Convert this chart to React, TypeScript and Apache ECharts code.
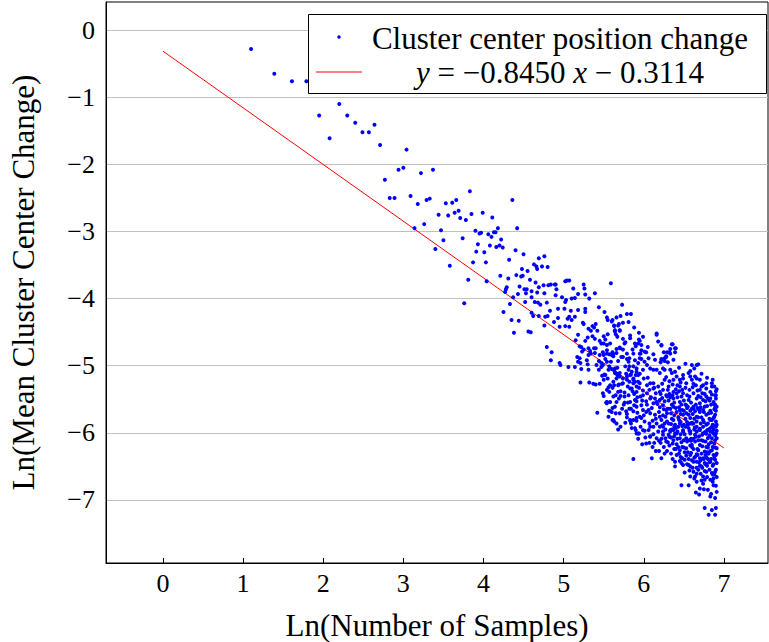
import React, { useEffect, useRef } from 'react';
import * as echarts from 'echarts';

// x = Ln(Number of Samples), y = Ln(Mean Cluster Center Change)
const sparsePoints: number[][] = [
  [1.10,-0.28],[1.39,-0.65],[1.61,-0.76],[1.79,-0.76],[1.95,-1.27],[2.08,-1.61],[2.20,-1.10],[2.30,-1.27],
  [2.40,-1.38],[2.49,-1.52],[2.57,-1.52],[2.64,-1.41],[2.71,-1.71],[2.77,-2.23],[2.83,-2.50],[2.89,-2.50],
  [2.94,-2.08],[3.00,-2.05],[3.04,-1.78],[3.09,-2.47],[3.14,-2.95],[3.18,-2.59],[3.22,-2.13],[3.26,-2.89],
  [3.29,-2.53],[3.33,-2.51],[3.37,-2.08],[3.40,-3.26]
];

const midPoints: number[][] = [
  [3.44,-2.75],[3.47,-2.98],[3.50,-3.13],[3.53,-2.58],[3.56,-2.76],[3.58,-3.51],[3.61,-2.57],[3.64,-2.72],
  [3.66,-2.53],[3.69,-2.69],[3.71,-2.80],[3.74,-3.10],[3.76,-4.07],[3.78,-2.83],[3.81,-3.72],[3.83,-2.40],
  [3.85,-2.74],[3.87,-3.46],[3.90,-2.99],[3.91,-3.30],[3.93,-3.19],[3.95,-3.03],[3.97,-3.02],[3.99,-2.72],
  [4.01,-3.31],[4.03,-3.46],[4.04,-3.74],[4.06,-3.04],[4.08,-3.21],[4.10,-3.08],[4.11,-2.79],[4.13,-3.01],
  [4.15,-3.01],[4.16,-3.23],[4.18,-2.95],[4.20,-3.21],[4.21,-3.66],[4.22,-3.12],[4.24,-3.24],[4.25,-4.20],
  [4.27,-3.90],[4.28,-3.86],[4.29,-3.83],[4.31,-3.70],[4.32,-3.42],[4.33,-4.08],[4.35,-4.32],[4.36,-2.53],
  [4.37,-3.98],[4.38,-4.51],[4.40,-3.28],[4.41,-3.65],[4.42,-2.95],[4.43,-3.93],[4.44,-4.33],[4.45,-3.82],
  [4.47,-3.67],[4.48,-3.56],[4.49,-3.66],[4.50,-3.34],[4.51,-3.86],[4.52,-4.05],[4.53,-3.92],[4.54,-3.86],
  [4.55,-3.59],[4.56,-4.49],[4.58,-3.72],[4.59,-4.50],[4.60,-3.89],[4.60,-3.98],[4.60,-4.21],[4.62,-4.26],
  [4.63,-3.49],[4.64,-4.05],[4.65,-3.76],[4.66,-3.52],[4.67,-3.56],[4.67,-3.91],[4.68,-4.06],[4.69,-3.40],
  [4.69,-3.83],[4.69,-4.26],[4.71,-4.09],[4.73,-3.52],[4.75,-3.80],[4.76,-3.37],[4.76,-3.92],[4.76,-4.40],
  [4.77,-4.27],[4.79,-4.06],[4.79,-4.72],[4.80,-3.53],[4.80,-4.26],[4.81,-3.80],[4.83,-4.18],[4.84,-3.79],
  [4.84,-4.92],[4.85,-4.80],[4.88,-4.35],[4.89,-3.79],[4.90,-3.79],[4.90,-3.95],[4.91,-3.86],[4.93,-4.15],
  [4.93,-4.29],[4.95,-4.42],[4.95,-4.96],[4.96,-4.99],[4.98,-3.98]
];

const band5Points: number[][] = [
  [5.01,-4.15],[5.02,-3.74],[5.02,-4.05],[5.02,-4.41],[5.03,-4.02],[5.04,-3.73],[5.05,-4.30],[5.06,-5.02],
  [5.07,-3.73],[5.07,-4.27],[5.07,-4.42],[5.09,-4.18],[5.10,-4.00],[5.10,-4.32],[5.12,-3.85],[5.14,-3.99],
  [5.14,-4.27],[5.14,-5.02],[5.15,-4.62],[5.17,-4.87],[5.18,-3.93],[5.18,-4.17],[5.18,-4.54],[5.18,-4.94],
  [5.20,-4.71],[5.20,-4.89],[5.21,-4.96],[5.21,-5.25],[5.22,-4.72],[5.22,-5.05],[5.23,-4.79],[5.24,-4.36],
  [5.25,-3.79],[5.25,-4.38],[5.25,-4.76],[5.26,-3.85],[5.27,-3.94],[5.27,-4.15],[5.27,-4.20],[5.27,-4.63],
  [5.29,-4.92],[5.30,-4.58],[5.30,-4.98],[5.31,-4.45],[5.31,-4.74],[5.31,-4.84],[5.31,-5.06],[5.32,-4.00],
  [5.32,-5.25],[5.33,-4.78],[5.34,-4.48],[5.34,-4.82],[5.36,-4.41],[5.36,-4.56],[5.37,-5.27],[5.38,-4.43],
  [5.38,-4.74],[5.39,-3.92],[5.39,-4.60],[5.39,-4.81],[5.40,-4.38],[5.40,-4.74],[5.40,-5.28],[5.41,-4.99],
  [5.42,-4.48],[5.42,-5.70],[5.44,-4.13],[5.44,-5.06],[5.45,-4.63],[5.45,-4.84],[5.45,-5.27],[5.47,-4.67],
  [5.47,-4.96],[5.47,-5.02],[5.49,-4.80],[5.49,-4.99],[5.49,-5.41],[5.50,-4.56],[5.50,-4.67],[5.50,-4.84],
  [5.50,-5.21],[5.50,-5.45],[5.51,-4.20],[5.51,-5.13],[5.52,-4.61],[5.52,-5.14],[5.53,-5.55],[5.54,-4.28],
  [5.54,-4.69],[5.54,-4.77],[5.54,-4.82],[5.54,-4.94],[5.54,-5.36],[5.54,-5.54],[5.54,-5.56],[5.55,-4.32],
  [5.55,-4.53],[5.55,-5.19],[5.56,-5.06],[5.56,-5.76],[5.57,-4.83],[5.57,-5.01],[5.57,-5.39],[5.57,-5.67],
  [5.58,-4.67],[5.58,-5.29],[5.58,-5.54],[5.59,-3.77],[5.59,-4.94],[5.60,-4.34],[5.60,-4.84],[5.60,-5.69],
  [5.61,-4.32],[5.61,-4.80],[5.61,-5.33],[5.61,-5.63],[5.61,-5.81],[5.62,-4.83],[5.62,-4.86],[5.62,-5.24],
  [5.62,-5.46],[5.62,-5.81],[5.63,-4.40],[5.63,-4.41],[5.63,-5.07],[5.63,-5.29],[5.63,-5.83],[5.64,-4.47],
  [5.64,-4.49],[5.64,-5.04],[5.64,-5.11],[5.64,-5.61],[5.65,-4.53],[5.65,-5.11],[5.65,-5.71],[5.66,-4.28],
  [5.66,-4.75],[5.66,-4.81],[5.66,-5.19],[5.66,-5.54],[5.66,-5.86],[5.67,-4.57],[5.67,-5.03],[5.67,-5.14],
  [5.68,-4.40],[5.68,-4.93],[5.68,-5.13],[5.68,-5.29],[5.68,-5.39],[5.68,-5.95],[5.69,-4.38],[5.69,-5.49],
  [5.70,-4.47],[5.70,-4.48],[5.70,-4.73],[5.70,-4.74],[5.70,-5.11],[5.70,-5.16],[5.70,-5.71]
];

const blobAPoints: number[][] = [
  [5.71,-4.26],[5.71,-5.38],[5.71,-5.45],[5.71,-5.91],[5.72,-4.87],[5.73,-4.09],[5.73,-5.27],[5.74,-4.36],
  [5.74,-4.60],[5.74,-4.76],[5.74,-4.87],[5.74,-5.19],[5.74,-5.26],[5.75,-5.58],[5.76,-4.67],[5.76,-5.40],
  [5.76,-5.46],[5.76,-5.55],[5.77,-4.65],[5.77,-5.01],[5.78,-5.68],[5.79,-4.23],[5.79,-4.82],[5.79,-4.90],
  [5.79,-5.16],[5.79,-5.21],[5.79,-5.72],[5.79,-5.77],[5.81,-4.35],[5.81,-4.94],[5.81,-5.06],[5.81,-5.44],
  [5.82,-4.89],[5.82,-5.24],[5.82,-5.64],[5.83,-4.55],[5.83,-4.59],[5.83,-5.14],[5.83,-5.34],[5.83,-5.54],
  [5.83,-5.81],[5.83,-5.82],[5.84,-4.23],[5.84,-5.64],[5.85,-5.09],[5.85,-5.34],[5.85,-5.93],[5.86,-4.76],
  [5.87,-4.82],[5.87,-5.01],[5.87,-5.19],[5.87,-5.21],[5.87,-5.26],[5.87,-5.68],[5.87,-5.81],[5.87,-6.39],
  [5.88,-4.43],[5.89,-4.67],[5.89,-4.92],[5.89,-5.24],[5.89,-5.51],[5.89,-5.93],[5.90,-4.71],[5.90,-5.96],
  [5.91,-5.04],[5.91,-5.09],[5.91,-5.31],[5.91,-5.39],[5.91,-5.53],[5.91,-5.61],[5.91,-5.78],[5.91,-5.82],
  [5.91,-6.01],[5.93,-4.67],[5.93,-4.96],[5.93,-5.14],[5.93,-5.24],[5.93,-6.01],[5.93,-6.09],[5.94,-4.51],
  [5.94,-4.61],[5.94,-6.01],[5.95,-4.63],[5.95,-4.82],[5.95,-4.89],[5.95,-5.12],[5.95,-5.26],[5.95,-5.76],
  [5.96,-4.82],[5.97,-4.69],[5.97,-4.77],[5.97,-4.90],[5.97,-5.59],[5.97,-5.78],[5.98,-6.17],[5.99,-4.57],
  [5.99,-5.06],[5.99,-5.37],[5.99,-5.44],[5.99,-5.66],[5.99,-5.96],[6.01,-4.79],[6.01,-4.94],[6.01,-5.83],
  [6.01,-5.97],[6.03,-4.80],[6.03,-5.69],[6.03,-6.16],[6.04,-4.99],[6.04,-5.29],[6.04,-5.58],[6.05,-4.72],
  [6.05,-5.18],[6.06,-4.89],[6.06,-5.66],[6.07,-5.86],[6.07,-6.15],[6.08,-5.04],[6.08,-5.49],[6.08,-5.71],
  [6.08,-5.91],[6.08,-6.05],[6.08,-6.06],[6.09,-5.47],[6.10,-6.38],[6.11,-6.21],[6.12,-4.83],[6.12,-5.06],
  [6.12,-5.26],[6.12,-5.34],[6.12,-5.56],[6.12,-5.91],[6.13,-5.33],[6.13,-6.15],[6.14,-4.91],[6.14,-5.73],
  [6.15,-5.79],[6.15,-6.27],[6.16,-4.52],[6.16,-4.54],[6.16,-5.06],[6.16,-5.54],[6.16,-5.86],[6.17,-5.57],
  [6.18,-4.64],[6.18,-5.31],[6.19,-6.12],[6.19,-6.27],[6.20,-5.11],[6.20,-5.39],[6.20,-5.51],[6.20,-5.76]
];

const blobBPoints: number[][] = [
  [6.21,-4.95],[6.21,-5.42],[6.22,-4.69],[6.22,-4.70],[6.22,-4.90],[6.22,-4.91],[6.22,-5.81],[6.22,-6.38],
  [6.23,-5.89],[6.24,-5.04],[6.24,-5.59],[6.24,-5.91],[6.24,-5.98],[6.24,-6.03],[6.25,-4.80],[6.25,-5.65],
  [6.26,-4.89],[6.26,-4.93],[6.26,-5.06],[6.26,-5.21],[6.26,-6.31],[6.27,-6.08],[6.28,-4.86],[6.28,-4.87],
  [6.28,-5.44],[6.28,-6.13],[6.29,-4.80],[6.29,-5.46],[6.29,-5.71],[6.29,-5.83],[6.30,-4.95],[6.31,-5.31],
  [6.31,-5.52],[6.31,-5.86],[6.32,-4.80],[6.32,-6.19],[6.33,-4.75],[6.33,-4.82],[6.33,-5.06],[6.33,-5.64],
  [6.33,-5.96],[6.33,-5.98],[6.34,-5.71],[6.35,-4.68],[6.35,-5.11],[6.35,-5.95],[6.36,-4.68],[6.36,-5.28],
  [6.36,-6.39],[6.37,-4.91],[6.37,-5.39],[6.37,-5.49],[6.37,-5.61],[6.37,-5.81],[6.37,-5.96],[6.37,-6.11],
  [6.38,-6.05],[6.38,-6.24],[6.39,-4.74],[6.39,-4.80],[6.39,-5.09],[6.39,-5.88],[6.39,-6.43],[6.39,-6.50],
  [6.40,-4.74],[6.40,-5.93],[6.41,-5.16],[6.41,-5.69],[6.41,-6.01],[6.41,-6.17],[6.41,-6.33],[6.42,-5.47],
  [6.43,-6.21],[6.44,-5.03],[6.44,-5.62],[6.44,-6.31],[6.45,-5.21],[6.45,-5.31],[6.45,-5.54],[6.45,-5.66],
  [6.45,-5.86],[6.45,-6.08],[6.45,-6.26],[6.46,-5.84],[6.47,-5.46],[6.47,-6.14],[6.47,-6.45],[6.47,-6.78],
  [6.48,-5.36],[6.48,-6.38],[6.49,-5.14],[6.49,-5.19],[6.49,-5.73],[6.49,-5.96],[6.49,-5.98],[6.49,-6.48],
  [6.50,-5.67],[6.50,-6.22],[6.51,-6.02],[6.51,-6.59],[6.52,-4.97],[6.52,-5.91],[6.53,-5.26],[6.53,-5.59],
  [6.53,-5.71],[6.53,-6.23],[6.53,-6.34],[6.54,-5.44],[6.55,-6.29],[6.56,-5.11],[6.56,-5.51],[6.56,-5.73],
  [6.56,-6.11],[6.56,-6.48],[6.56,-6.78],[6.57,-5.97],[6.57,-6.56],[6.58,-5.08],[6.58,-5.16],[6.58,-5.78],
  [6.58,-5.86],[6.58,-5.98],[6.58,-6.01],[6.58,-6.33],[6.58,-6.50],[6.58,-6.65],[6.59,-5.55],[6.60,-4.99],
  [6.60,-5.21],[6.60,-6.18],[6.60,-6.21],[6.60,-6.41],[6.61,-5.32],[6.62,-5.41],[6.62,-5.61],[6.62,-5.64],
  [6.62,-5.86],[6.62,-6.43],[6.62,-6.58],[6.63,-5.04],[6.63,-6.37],[6.63,-6.68],[6.64,-5.16],[6.64,-5.68],
  [6.64,-6.13],[6.64,-6.36],[6.64,-6.65],[6.65,-6.06],[6.65,-6.89],[6.66,-4.99],[6.66,-5.19],[6.66,-5.49],
  [6.66,-5.76],[6.66,-5.83],[6.66,-5.91],[6.66,-5.98],[6.66,-6.43],[6.66,-6.52],[6.66,-6.73],[6.67,-6.24],
  [6.68,-4.98],[6.68,-5.77],[6.68,-6.26],[6.68,-6.55],[6.69,-6.44],[6.69,-6.92],[6.70,-5.21],[6.70,-5.36],
  [6.70,-5.56],[6.70,-5.69],[6.70,-5.94],[6.70,-5.96],[6.70,-6.38],[6.70,-6.83],[6.71,-5.62],[6.71,-6.61],
  [6.72,-5.12],[6.72,-6.11],[6.72,-6.31],[6.72,-6.50],[6.72,-6.71],[6.73,-5.41],[6.74,-5.29],[6.74,-5.66],
  [6.74,-5.81],[6.74,-5.91],[6.74,-6.01],[6.74,-6.12],[6.74,-6.65],[6.74,-6.76],[6.75,-5.84],[6.75,-6.84],
  [6.76,-6.28],[6.76,-6.45],[6.76,-6.57],[6.76,-7.12],[6.77,-5.53],[6.77,-6.47],[6.78,-5.26],[6.78,-5.34],
  [6.78,-5.46],[6.78,-5.73],[6.78,-6.01],[6.78,-6.21],[6.78,-6.36],[6.78,-6.58],[6.79,-5.18],[6.79,-5.96],
  [6.79,-6.66],[6.80,-6.08],[6.80,-6.39],[6.80,-6.85],[6.81,-5.71],[6.81,-7.22],[6.82,-6.04],[6.82,-6.55],
  [6.83,-5.39],[6.83,-5.49],[6.83,-5.81],[6.83,-5.93],[6.83,-5.98],[6.83,-6.27],[6.83,-6.43],[6.83,-6.70],
  [6.83,-6.95],[6.84,-6.91],[6.85,-5.26],[6.85,-5.31],[6.85,-5.81],[6.85,-5.91],[6.85,-6.08],[6.85,-6.26],
  [6.85,-6.60],[6.85,-7.15],[6.86,-5.21],[6.86,-6.49],[6.86,-6.73],[6.87,-5.54],[6.87,-5.78],[6.87,-5.95],
  [6.87,-6.01],[6.87,-6.33],[6.87,-6.68],[6.87,-6.78],[6.88,-6.16],[6.88,-6.62],[6.88,-5.76],[6.89,-5.44],
  [6.89,-5.58],[6.89,-5.59],[6.89,-5.63],[6.89,-5.73],[6.89,-6.11],[6.89,-6.22],[6.89,-6.40],[6.89,-6.58],
  [6.89,-6.97],[6.89,-7.22],[6.90,-5.44],[6.90,-5.49],[6.90,-5.67],[6.90,-6.01],[6.90,-6.33],[6.90,-6.79],
  [6.90,-7.12],[6.91,-5.35],[6.91,-5.88],[6.91,-5.97],[6.91,-6.08],[6.91,-6.23],[6.91,-6.45],[6.91,-6.88]
];

// extra points read from the densest part of the cloud
const blobCPoints: number[][] = [
  [6.32,-5.42],[6.35,-5.58],[6.38,-5.74],[6.40,-5.35],[6.43,-5.77],[6.46,-5.25],[6.48,-5.90],[6.50,-5.52],
  [6.52,-5.79],[6.54,-5.63],[6.55,-5.88],[6.57,-5.36],[6.59,-6.09],[6.61,-5.72],[6.63,-5.95],[6.65,-5.29],
  [6.67,-5.63],[6.69,-6.05],[6.71,-5.47],[6.73,-6.20],[6.75,-5.69],[6.76,-5.99],[6.77,-6.33],[6.79,-5.60],
  [6.80,-5.86],[6.81,-6.17],[6.82,-5.52],[6.84,-5.70],[6.84,-6.39],[6.86,-5.99],[6.86,-6.21],[6.88,-5.65],
  [6.88,-5.89],[6.90,-6.55],[6.90,-5.83],[6.91,-6.66],[6.67,-6.33],[6.71,-6.41],[6.73,-6.52],[6.76,-6.70],
  [6.79,-6.49],[6.81,-6.31],[6.62,-6.24],[6.59,-6.30],[6.54,-6.13],[6.51,-6.40],[6.46,-6.02],[6.42,-5.98],
  [6.34,-6.07],[6.30,-6.14],[6.27,-5.76],[6.23,-5.48],[6.19,-5.69],[6.15,-5.41],[6.11,-5.82],[6.07,-5.36],
  [6.03,-5.53],[6.00,-5.74],[5.96,-5.46],[5.92,-5.70],[5.88,-5.42],[5.84,-5.13],[5.80,-5.31],[5.77,-5.85],
  [5.73,-5.64],[5.69,-5.28],[5.65,-5.44],[5.60,-5.05],[5.56,-5.32],[5.52,-4.90],[5.48,-5.15],[5.44,-4.93]
];

const blobDPoints: number[][] = [
  [6.20,-5.62],[6.21,-6.15],[6.23,-5.27],[6.24,-5.74],[6.25,-6.21],[6.26,-5.53],[6.27,-5.95],[6.28,-5.17],
  [6.29,-6.27],[6.30,-5.64],[6.31,-6.03],[6.32,-5.23],[6.33,-5.47],[6.34,-6.31],[6.35,-5.79],[6.36,-6.16],
  [6.37,-5.21],[6.38,-5.55],[6.39,-6.01],[6.40,-5.63],[6.41,-5.41],[6.42,-6.09],[6.43,-5.91],[6.44,-5.38],
  [6.45,-6.42],[6.46,-5.72],[6.47,-5.58],[6.48,-6.21],[6.49,-5.41],[6.50,-5.88],[6.51,-6.29],[6.52,-5.33],
  [6.53,-6.08],[6.54,-5.84],[6.55,-5.61],[6.56,-6.39],[6.57,-5.46],[6.58,-5.67],[6.59,-6.12],[6.60,-5.85],
  [6.61,-6.52],[6.62,-5.27],[6.63,-5.79],[6.64,-6.03],[6.65,-5.58],[6.66,-6.32],[6.67,-5.37],[6.68,-6.11],
  [6.69,-5.66],[6.70,-6.49],[6.71,-5.86],[6.72,-5.31],[6.73,-6.03],[6.74,-5.51],[6.75,-6.39],[6.76,-5.61],
  [6.77,-6.13],[6.78,-5.88],[6.79,-6.29],[6.80,-5.49],[6.81,-5.95],[6.82,-6.44],[6.83,-5.67],[6.84,-6.14],
  [6.85,-5.43],[6.86,-5.88],[6.87,-6.47],[6.88,-5.31],[6.89,-6.04],[6.90,-5.91],[6.91,-6.31],[6.91,-5.61],
  [6.90,-5.38],[6.88,-6.38],[6.86,-6.62],[6.84,-5.58],[6.82,-5.79],[6.80,-6.22],[6.78,-6.46],[6.76,-5.42],
  [6.74,-6.38],[6.72,-5.77],[6.70,-6.18],[6.68,-5.45],[6.66,-6.61],[6.64,-5.92],[6.62,-6.09],[6.60,-5.64],
  [6.58,-6.19],[6.56,-5.93],[6.54,-6.47],[6.52,-5.58],[6.50,-6.11],[6.48,-5.66],[6.46,-6.36],[6.44,-5.81],
  [6.42,-5.29],[6.40,-6.24],[6.38,-5.91],[6.36,-5.44],[6.34,-5.87],[6.32,-6.06],[6.30,-5.36],[6.28,-5.66],
  [6.26,-5.86],[6.24,-5.36],[6.22,-6.09],[6.20,-5.91],[6.18,-5.98],[6.16,-6.08],[6.14,-5.49],[6.12,-6.02],
  [6.10,-5.63],[6.08,-5.26],[6.06,-5.96],[6.04,-5.41],[6.02,-6.07],[6.00,-5.19],[5.98,-5.52],[5.96,-5.91],
  [5.94,-5.33],[5.92,-5.47],[5.90,-5.14],[5.88,-5.59],[5.86,-5.38],[5.84,-5.86],[5.82,-5.01],[5.80,-5.55],
  [5.78,-5.12]
];

// Fitted line y = -0.8450 x - 0.3114, endpoints
const fitX = [0, 7];
const fitY = [-0.3114, -6.2264];

const xTicks = [0, 1, 2, 3, 4, 5, 6, 7];
const yTicks = [-7, -6, -5, -4, -3, -2, -1, 0];

const scatterName = 'Cluster center position change';
const xTitle = 'Ln(Number of Samples)';
const yTitle = 'Ln(Mean Cluster Center Change)';

export default function App() {
  const ref = useRef<HTMLDivElement>(null);
  useEffect(() => {
    const chart = echarts.init(ref.current!, null, { renderer: 'svg' });
    const font = '"Liberation Serif", "Times New Roman", serif';
    const allPoints = [
      ...sparsePoints, ...midPoints, ...band5Points, ...blobAPoints, ...blobBPoints, ...blobCPoints, ...blobDPoints,
    ];
    const minus = (v: number) => (v < 0 ? '\u2212' + Math.abs(v) : String(v));
    chart.setOption({
      animation: false,
      backgroundColor: '#fff',
      grid: {
        left: 106, top: 2, width: 662, height: 561,
        outerBoundsMode: 'none', containLabel: false,
        show: true, borderColor: '#000', borderWidth: 1, backgroundColor: 'transparent',
      },
      xAxis: {
        type: 'value', min: -0.71, max: 7.55,
        axisLine: { show: true, onZero: false, lineStyle: { color: '#000', width: 1 } },
        axisTick: { show: true, inside: true, length: 5, customValues: xTicks, lineStyle: { color: '#000' } },
        axisLabel: { customValues: xTicks, color: '#000', fontFamily: font, fontSize: 26, margin: 7, formatter: minus },
        splitLine: { show: false },
        name: xTitle, nameLocation: 'middle', nameGap: 47, nameMoveOverlap: false,
        nameTextStyle: { color: '#000', fontFamily: font, fontSize: 31 },
      },
      yAxis: {
        type: 'value', min: -7.94, max: 0.42,
        axisLine: { show: true, onZero: false, lineStyle: { color: '#000', width: 1 } },
        axisTick: { show: false, customValues: yTicks },
        axisLabel: { customValues: yTicks, color: '#000', fontFamily: font, fontSize: 26, margin: 11, formatter: minus },
        splitLine: { show: true, lineStyle: { color: '#bfbfbf', width: 1 } },
        name: yTitle, nameLocation: 'middle', nameGap: 67, nameMoveOverlap: false,
        nameTextStyle: { color: '#000', fontFamily: font, fontSize: 31 },
      },
      series: [
        {
          type: 'line', data: fitX.map((x, i) => [x, fitY[i]]), showSymbol: false, symbol: 'none',
          lineStyle: { color: '#ff0000', width: 1 }, z: 2, silent: true,
        },
        {
          type: 'scatter', name: scatterName, data: allPoints, symbolSize: 4,
          itemStyle: { color: '#0000ff', opacity: 1 }, z: 3, silent: true,
        },
      ],
      graphic: [
        {
          type: 'rect', z: 100,
          shape: { x: 308.5, y: 14.5, width: 458, height: 79 },
          style: { fill: '#fff', stroke: '#000', lineWidth: 1 },
        },
        { type: 'circle', z: 101, shape: { cx: 339, cy: 37, r: 1.75 }, style: { fill: '#0000ff' } },
        { type: 'line', z: 101, shape: { x1: 316, y1: 72, x2: 362, y2: 72 }, style: { stroke: '#ff0000', lineWidth: 1 } },
        {
          type: 'text', z: 101, x: 560, y: 38,
          style: { text: scatterName, fill: '#000', fontFamily: font, fontSize: 31, align: 'center', verticalAlign: 'middle' },
        },
        {
          type: 'text', z: 101, x: 560, y: 72,
          style: {
            text: '{i|y} = \u22120.8450 {i|x} \u2212 0.3114',
            fill: '#000', fontFamily: font, fontSize: 31, align: 'center', verticalAlign: 'middle',
            rich: { i: { fontStyle: 'italic', fontFamily: font, fontSize: 31, fill: '#000' } },
          },
        },
      ],
    });
    return () => chart.dispose();
  }, []);
  return <div ref={ref} style={{ position: 'fixed', left: 0, top: 0, width: 769, height: 642, background: '#fff' }} />;
}
